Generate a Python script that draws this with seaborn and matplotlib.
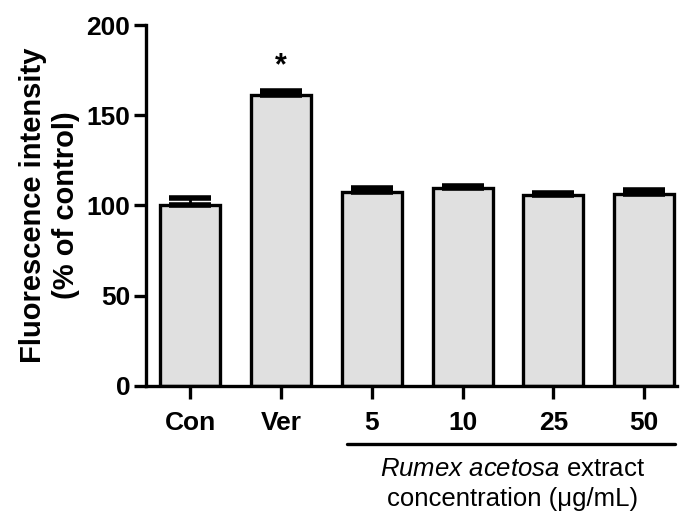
import matplotlib
matplotlib.use("Agg")
import matplotlib.pyplot as plt
import seaborn as sns
import numpy as np
import pandas as pd

categories = ["Con", "Ver", "5", "10", "25", "50"]
means = [100.0, 161.2, 107.6, 109.5, 105.8, 106.2]
sems = [4.0, 2.2, 2.0, 1.4, 1.3, 2.5]
yticks = [0, 50, 100, 150, 200]

sns.set_theme(style="ticks")
plt.rcParams['font.family'] = ['Liberation Sans', 'DejaVu Sans']
plt.rcParams['mathtext.fontset'] = 'custom'
plt.rcParams['mathtext.it'] = 'Liberation Sans:italic'
plt.rcParams['mathtext.rm'] = 'Liberation Sans'
for k in ['text.color', 'axes.labelcolor', 'xtick.color', 'ytick.color', 'axes.edgecolor']:
    plt.rcParams[k] = 'black'

fig = plt.figure(figsize=(6.81, 5.11), dpi=100)
ax = fig.add_axes([0.214, 0.245, 0.780, 0.706])

df = pd.DataFrame({"group": categories, "value": means})
sns.barplot(data=df, x="group", y="value", order=categories, color="#e0e0e0",
            saturation=1, edgecolor="black", linewidth=2.4, width=0.66,
            errorbar=None, ax=ax)

x = np.arange(len(categories))
ax.errorbar(x, means, yerr=[np.zeros(len(sems)), sems], fmt="none",
            ecolor="black", elinewidth=2.0, capsize=15, capthick=4, zorder=1)

ax.set_xlim(-0.49, 5.36)
ax.set_ylim(0, 200)
ax.set_yticks(yticks)
ax.set_yticklabels([str(t) for t in yticks])
for s in ["top", "right"]:
    ax.spines[s].set_visible(False)
for s in ["left", "bottom"]:
    ax.spines[s].set_linewidth(2.4)
ax.tick_params(axis="both", width=2.4, length=9, labelsize=19, pad=2)
ax.tick_params(axis="x", length=9, pad=9)
for lab in ax.get_xticklabels() + ax.get_yticklabels():
    lab.set_fontweight("bold")
ax.set_xlabel("")
ax.set_ylabel("Fluorescence intensity\n(% of control)", fontsize=21,
              fontweight="bold", labelpad=5, linespacing=1.2)

# asterisk
ax.text(1, means[1] + sems[1] + 14, "*", ha="center", va="center",
        fontsize=22, fontweight="bold")

# underline for extract group
ax.plot([1.73, 5.34], [-0.16, -0.16], color="black", lw=2.4,
        transform=ax.get_xaxis_transform(), clip_on=False)
ax.text(3.55, -0.23, r"$\it{Rumex}$ $\it{acetosa}$ extract", ha="center",
        va="center", fontsize=18.5, transform=ax.get_xaxis_transform())
ax.text(3.55, -0.315, "concentration (μg/mL)", ha="center", va="center",
        fontsize=18.5, transform=ax.get_xaxis_transform())

fig.savefig("out.png", dpi=100)
